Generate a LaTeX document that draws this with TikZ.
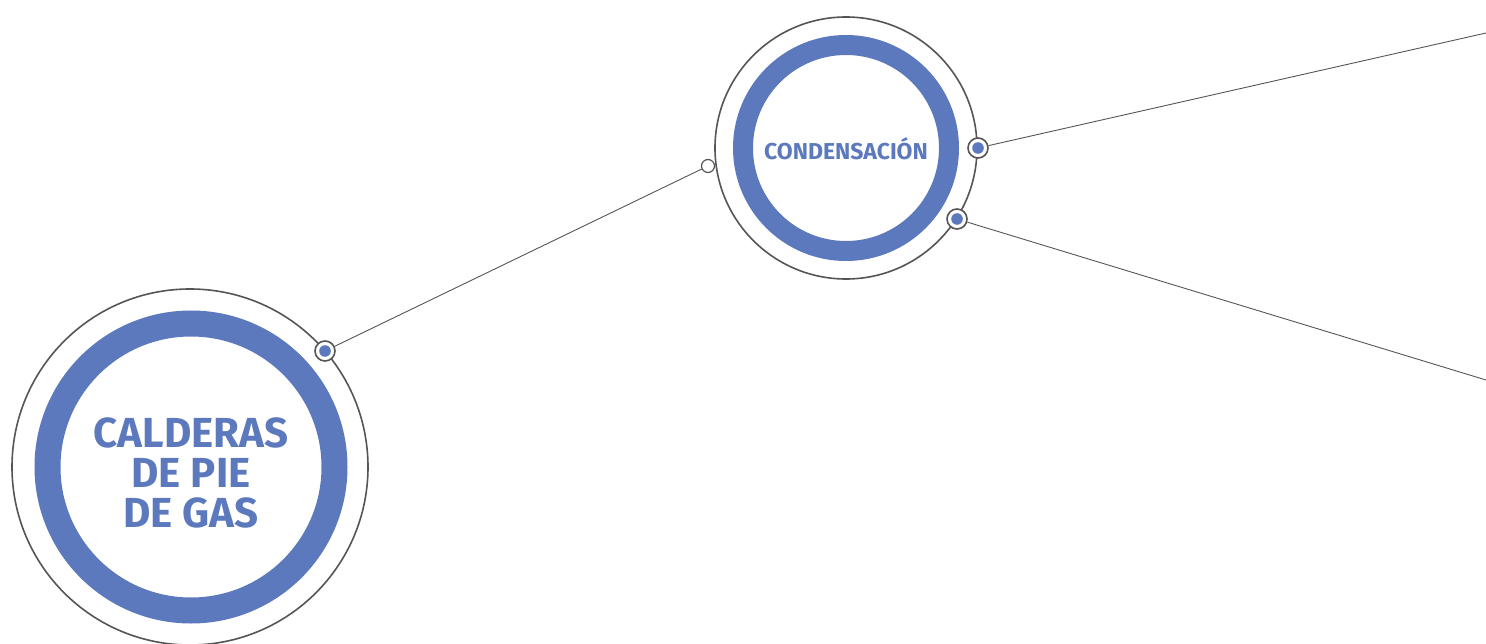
\documentclass[tikz,border=0pt]{standalone}
\usepackage{fontspec}
\setmainfont{Fira Sans}
\definecolor{ringblue}{HTML}{5B79BC}
\definecolor{rimgray}{HTML}{555555}
\tikzset{
  rim/.style={circle,draw=rimgray,line width=1.6pt,inner sep=0pt},
  ring/.style={circle,draw=ringblue,line width=#1,inner sep=0pt},
  ringtext/.style={text=ringblue,align=center,inner sep=0pt},
  port/.style={circle,draw=rimgray,line width=1.6pt,fill=white,minimum size=20pt,inner sep=0pt,
    path picture={\fill[ringblue] (path picture bounding box.center) circle (5.8pt);}},
  openport/.style={circle,draw=rimgray,line width=1.2pt,fill=white,minimum size=13pt,inner sep=0pt},
  link/.style={draw=rimgray,line width=0.9pt}
}
\begin{document}
\begin{tikzpicture}[x=1pt,y=-1pt]
\useasboundingbox (0,0) rectangle (1486,644);
% big circle
\node[rim,minimum size=356pt] (calderas) at (190,467) {};
\node[ring=26pt,minimum size=287pt] (calderasring) at (191,467) {};
\node[ringtext,font=\bfseries\fontsize{42}{40}\selectfont] (calderaslabel) at (191,473) {CALDERAS\\DE PIE\\DE GAS};
% small circle
\node[rim,minimum size=262pt] (condens) at (846,148) {};
\node[ring=20pt,minimum size=206pt] (condensring) at (846,148) {};
\node[ringtext,font=\bfseries\fontsize{23}{24}\selectfont] (condenslabel) at (846,149) {CONDENSACIÓN};
% ports and links
\node[port] (portA) at (325,351) {};
\node[openport] (portB) at (708,166) {};
\node[port] (portC) at (978,148) {};
\node[port] (portD) at (957,219) {};
\coordinate (upend) at (1486,33);
\coordinate (downend) at (1486,380);
\draw[link] (portA) -- (portB);
\draw[link] (portC) -- (upend);
\draw[link] (portD) -- (downend);
\end{tikzpicture}
\end{document}
